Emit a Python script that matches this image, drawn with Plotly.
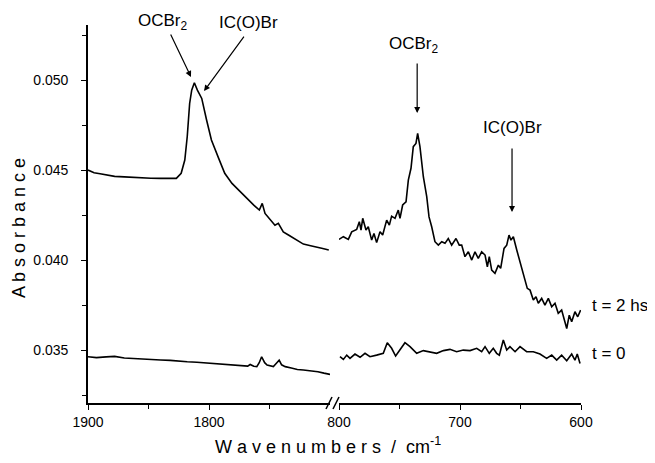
import plotly.graph_objects as go

# ---- data (wavenumber cm-1, absorbance) ----
left_t2_x = [1900, 1895, 1890, 1884, 1878, 1870, 1862, 1855, 1848, 1840, 1833, 1827, 1823, 1820, 1818, 1816,
             1814.3, 1812.1, 1809.6, 1806, 1802, 1798, 1792, 1787, 1781, 1775, 1769, 1763, 1758.4, 1756,
             1753.7, 1749, 1745.5, 1742.7, 1738.6, 1734, 1730, 1726, 1722, 1716, 1711, 1706, 1701]
left_t2_y = [0.0450, 0.04485, 0.04480, 0.04472, 0.04465, 0.04462, 0.04458, 0.04457, 0.04455, 0.04454, 0.04452,
             0.04454, 0.04482, 0.04556, 0.04685, 0.04870, 0.04944, 0.04985, 0.04944, 0.04898, 0.04778, 0.04667,
             0.04565, 0.04482, 0.04426, 0.04385, 0.04343, 0.04305, 0.04278, 0.04315, 0.04259, 0.04225, 0.04194,
             0.04204, 0.04157, 0.04138, 0.04121, 0.04104, 0.04089, 0.04080, 0.04074, 0.04064, 0.04056]

left_t0_x = [1900, 1893, 1885, 1878, 1870, 1862, 1855, 1847, 1840, 1832, 1825, 1818, 1810, 1802, 1795, 1788,
             1780, 1773, 1768, 1766, 1763, 1760.5, 1758.5, 1756.5, 1754, 1752, 1749, 1746.8, 1744.5, 1742,
             1740, 1737, 1732, 1727, 1722, 1716, 1710, 1705, 1700]
left_t0_y = [0.03463, 0.03458, 0.03462, 0.03465, 0.03456, 0.03452, 0.03450, 0.03448, 0.03445, 0.03443, 0.03438,
             0.03435, 0.03432, 0.03428, 0.03424, 0.03422, 0.03418, 0.03413, 0.03411, 0.03420, 0.03410, 0.03408,
             0.03430, 0.03463, 0.03430, 0.03417, 0.03410, 0.03408, 0.03425, 0.03444, 0.03418, 0.03408, 0.03400,
             0.03392, 0.03389, 0.03385, 0.03380, 0.03372, 0.03365]

right_t2_x = [800, 796.4, 792.3, 789.5, 785.4, 783.2, 781.8, 780.4, 777.7, 775.8, 773, 771.1, 768.9, 766.1,
              763.9, 760.6, 758.4, 756.5, 753.7, 751, 749.6, 747.4, 744.6, 742.7, 740.5, 738.6, 736.4, 735,
              733.1, 730.3, 727.5, 725.6, 723.4, 720.7, 717.9, 715.1, 712.4, 709.7, 706.9, 703.3, 700.6,
              698.6, 695.9, 693.1, 690.3, 687.6, 684.9, 682.1, 679.3, 677.4, 675.8, 673.8, 671.1, 668.3,
              666.4, 663.6, 661.4, 659.5, 657.9, 655.9, 653.1, 650.4, 647.1, 644.4, 642.1, 639.4, 637.2,
              635.3, 632.5, 629.8, 627, 624.2, 621.5, 618.8, 616, 613.2, 611.8, 609.7, 607.7, 605, 602.7, 600.3]
right_t2_y = [0.04115, 0.04130, 0.04115, 0.04157, 0.04170, 0.04213, 0.04167, 0.04232, 0.04167, 0.04185,
              0.04111, 0.04148, 0.04097, 0.04157, 0.04139, 0.04222, 0.04194, 0.04244, 0.04232, 0.04278,
              0.04232, 0.04306, 0.04324, 0.04444, 0.04510, 0.04630, 0.04648, 0.04704, 0.04630, 0.04463,
              0.04352, 0.04240, 0.04185, 0.04102, 0.04083, 0.04102, 0.04093, 0.04120, 0.04083, 0.04120,
              0.04083, 0.04083, 0.04019, 0.04046, 0.04000, 0.04046, 0.04009, 0.04046, 0.04028, 0.03963,
              0.04019, 0.03944, 0.03926, 0.03972, 0.03954, 0.04065, 0.04083, 0.04139, 0.04111, 0.04130,
              0.04056, 0.03991, 0.03917, 0.03843, 0.03833, 0.03778, 0.03796, 0.03760, 0.03787, 0.03750,
              0.03787, 0.03741, 0.03760, 0.03704, 0.03722, 0.03657, 0.03620, 0.03694, 0.03657, 0.03713,
              0.03685, 0.03722]

right_t0_x = [799.2, 796.4, 793.6, 790.9, 786.8, 782.6, 778.5, 774.4, 768.9, 763.4, 760.1, 756.5, 753.2,
              749.6, 745.5, 741.3, 735.8, 730.3, 724.8, 719.3, 713.7, 708.3, 702.8, 697.3, 691.7, 686.2,
              682.1, 679.3, 675.8, 672.5, 669.7, 667.5, 664.2, 661.4, 658.7, 654.5, 650.4, 644.9, 639.4,
              633.9, 628.4, 624.2, 620.1, 616, 611.8, 607.7, 605, 603.1, 600.8]
right_t0_y = [0.03463, 0.03448, 0.03472, 0.03454, 0.03478, 0.03460, 0.03482, 0.03463, 0.03472, 0.03482,
              0.03541, 0.03510, 0.03467, 0.03500, 0.03541, 0.03519, 0.03482, 0.03497, 0.03491, 0.03482,
              0.03497, 0.03504, 0.03491, 0.03500, 0.03497, 0.03510, 0.03491, 0.03519, 0.03482, 0.03510,
              0.03482, 0.03472, 0.03556, 0.03500, 0.03519, 0.03491, 0.03519, 0.03491, 0.03491, 0.03478,
              0.03454, 0.03472, 0.03444, 0.03472, 0.03441, 0.03478, 0.03444, 0.03478, 0.03426]

left_ticks = [1900, 1800]
right_ticks = [800, 700, 600]
y_ticks = [0.035, 0.040, 0.045, 0.050]

FONT = "Liberation Sans, Arial, sans-serif"
line = dict(color="black", width=1.6)

fig = go.Figure()
fig.add_trace(go.Scatter(x=left_t2_x, y=left_t2_y, mode="lines", line=line, xaxis="x", yaxis="y"))
fig.add_trace(go.Scatter(x=left_t0_x, y=left_t0_y, mode="lines", line=line, xaxis="x", yaxis="y"))
fig.add_trace(go.Scatter(x=right_t2_x, y=right_t2_y, mode="lines", line=line, xaxis="x2", yaxis="y"))
fig.add_trace(go.Scatter(x=right_t0_x, y=right_t0_y, mode="lines", line=line, xaxis="x2", yaxis="y"))

# page body has an 8px margin, so the figure is drawn 8px smaller and shifted
OFF = 8
REF_L, REF_T, REF_R_EDGE, REF_B_EDGE = 88, 25, 581, 403
W, H = 655 - OFF, 463 - OFF
L, T = REF_L - OFF, REF_T - OFF
pw = REF_R_EDGE - REF_L
ph = REF_B_EDGE - REF_T
R = W - L - pw
B = H - T - ph
d1 = (330 - REF_L) / pw
d2 = (339 - REF_L) / pw


def px(xp):
    return (xp - REF_L) / pw


def py(yp):
    return (REF_B_EDGE - yp) / ph


axis_common = dict(showline=True, linecolor="black", linewidth=1.6, ticks="outside", ticklen=5,
                   tickwidth=1.4, tickcolor="black", showgrid=False, zeroline=False,
                   tickfont=dict(family=FONT, size=14, color="black"))

fig.update_layout(
    width=W, height=H, margin=dict(l=L, r=R, t=T, b=B),
    paper_bgcolor="white", plot_bgcolor="white", showlegend=False,
    xaxis=dict(domain=[0, d1], range=[1900, 1700], tickvals=left_ticks, anchor="y",
               minor=dict(tickvals=[1850, 1750], ticks="outside", ticklen=4, tickcolor="black", tickwidth=1.4),
               **axis_common),
    xaxis2=dict(domain=[d2, 1], range=[800, 600], tickvals=right_ticks, anchor="y",
                minor=dict(tickvals=[750, 650], ticks="outside", ticklen=4, tickcolor="black", tickwidth=1.4),
                **axis_common),
    yaxis=dict(range=[0.03206, 0.05306], tickvals=y_ticks, tickformat=".3f", anchor="x",
               ticklabelstandoff=10,
               minor=dict(tickvals=[0.0325, 0.0375, 0.0425, 0.0475, 0.0525], ticks="outside", ticklen=4,
                          tickcolor="black", tickwidth=1.4),
               **axis_common),
)

# axis break marks
for xa in [px(329), px(336)]:
    fig.add_shape(type="line", xref="paper", yref="paper", xsizemode="pixel", ysizemode="pixel",
                  xanchor=xa, yanchor=0, x0=-3, x1=3, y0=-6, y1=6,
                  line=dict(color="black", width=1.6))

afont = dict(family=FONT, size=17, color="black")
ann = []
ann.append(dict(x=px(163), y=py(22), xref="paper", yref="paper", text="OCBr<sub>2</sub>",
                showarrow=False, font=afont, xanchor="center", yanchor="middle"))
ann.append(dict(x=px(248), y=py(22), xref="paper", yref="paper", text="IC(O)Br",
                showarrow=False, font=afont, xanchor="center", yanchor="middle"))
ann.append(dict(x=px(414), y=py(45), xref="paper", yref="paper", text="OCBr<sub>2</sub>",
                showarrow=False, font=afont, xanchor="center", yanchor="middle"))
ann.append(dict(x=px(512), y=py(127), xref="paper", yref="paper", text="IC(O)Br",
                showarrow=False, font=afont, xanchor="center", yanchor="middle"))
ann.append(dict(x=px(590), y=py(305), xref="paper", yref="paper", text="t = 2 hs",
                showarrow=False, font=afont, xanchor="left", yanchor="middle"))
ann.append(dict(x=px(590), y=py(353), xref="paper", yref="paper", text="t = 0",
                showarrow=False, font=afont, xanchor="left", yanchor="middle"))
arrow = dict(showarrow=True, arrowhead=2, arrowsize=1, arrowwidth=1.2, arrowcolor="black", text="",
             axref="pixel", ayref="pixel")
ann.append(dict(x=1814.9, y=0.05017, xref="x", yref="y", ax=-21, ay=-44, **arrow))
ann.append(dict(x=1804.1, y=0.04939, xref="x", yref="y", ax=41, ay=-56, **arrow))
ann.append(dict(x=735.4, y=0.04817, xref="x2", yref="y", ax=0, ay=-51, **arrow))
ann.append(dict(x=657.0, y=0.04267, xref="x2", yref="y", ax=0, ay=-65, **arrow))
tfont = dict(family=FONT, size=18, color="black")
ann.append(dict(x=px(328), y=py(445), xref="paper", yref="paper",
                text="W a v e n u m b e r s  /  cm<sup>-1</sup>", showarrow=False, font=tfont,
                xanchor="center", yanchor="middle"))
ann.append(dict(x=px(19), y=py(228), xref="paper", yref="paper",
                text="A b s o r b a n c e", showarrow=False, font=tfont, textangle=-90,
                xanchor="center", yanchor="middle"))
fig.update_layout(annotations=ann)

fig.write_html("out.html")
